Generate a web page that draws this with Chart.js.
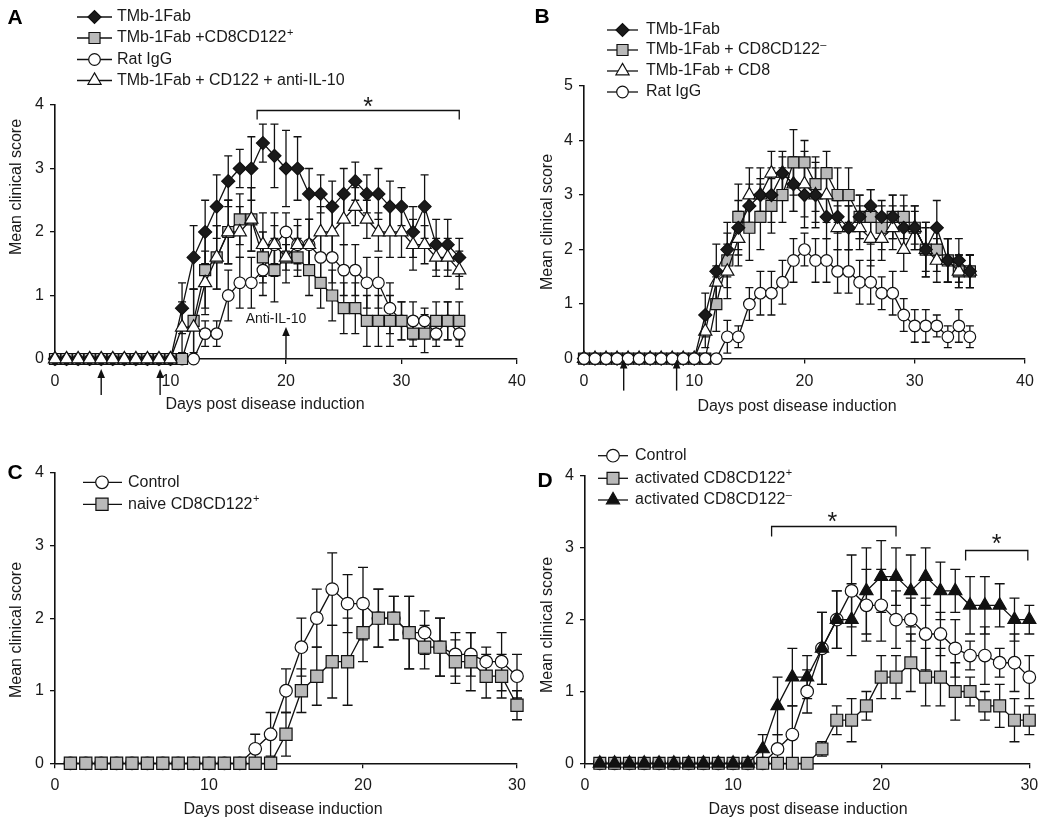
<!DOCTYPE html>
<html>
<head>
<meta charset="utf-8">
<script src="https://cdn.jsdelivr.net/npm/chart.js@4.4.1/dist/chart.umd.min.js"></script>
<style>
html,body{margin:0;padding:0;background:#fff;width:1050px;height:825px;overflow:hidden;}
canvas{position:absolute;}
</style>
</head>
<body>
<canvas id="cA" width="540" height="415" style="left:0;top:0"></canvas>
<canvas id="cB" width="530" height="415" style="left:520px;top:0"></canvas>
<canvas id="cC" width="540" height="415" style="left:0;top:410px"></canvas>
<canvas id="cD" width="530" height="415" style="left:520px;top:410px"></canvas>
<script>
// ---------------- DATA ----------------
const daysAB = [0,1,2,3,4,5,6,7,8,9,10,11,12,13,14,15,16,17,18,19,20,21,22,23,24,25,26,27,28,29,30,31,32,33,34,35];
const daysCD = [1,2,3,4,5,6,7,8,9,10,11,12,13,14,15,16,17,18,19,20,21,22,23,24,25,26,27,28,29,30];

const xTicksAB = [0,10,20,30,40];
const yTicksA = [0,1,2,3,4];
const yTicksB = [0,1,2,3,4,5];
const xTicksCD = [0,10,20,30];
const yTicksCD = [0,1,2,3,4];

// Panel A
const aTMb      = [0,0,0,0,0,0,0,0,0,0,0, 0.8,1.6,2.0,2.4,2.8,3.0,3.0,3.4,3.2,3.0,3.0,2.6,2.6,2.4,2.6,2.8,2.6,2.6,2.4,2.4,2.0,2.4,1.8,1.8,1.6];
const aTMbErr   = [0,0,0,0,0,0,0,0,0,0,0, 0.4,0.5,0.5,0.5,0.4,0.3,0.5,0.3,0.5,0.6,0.5,0.4,0.3,0.4,0.4,0.3,0.3,0.4,0.4,0.3,0.4,0.5,0.4,0.4,0.3];
const aCD122p   = [0,0,0,0,0,0,0,0,0,0,0,0, 0.6,1.4,1.6,2.0,2.2,2.2,1.6,1.4,1.6,1.6,1.4,1.2,1.0,0.8,0.8,0.6,0.6,0.6,0.6,0.4,0.4,0.6,0.6,0.6];
const aCD122pErr= [0,0,0,0,0,0,0,0,0,0,0,0, 0.5,0.6,0.5,0.5,0.4,0.5,0.4,0.5,0.4,0.3,0.4,0.4,0.4,0.4,0.4,0.4,0.4,0.4,0.3,0.2,0.3,0.3,0.3,0.3];
const aRatIgG   = [0,0,0,0,0,0,0,0,0,0,0,0,0, 0.4,0.4,1.0,1.2,1.2,1.4,1.8,2.0,1.8,1.8,1.6,1.6,1.4,1.4,1.2,1.2,0.8,0.6,0.6,0.6,0.4,0.6,0.4];
const aRatIgGErr= [0,0,0,0,0,0,0,0,0,0,0,0,0, 0.2,0.2,0.4,0.4,0.4,0.4,0.3,0.3,0.4,0.4,0.4,0.4,0.4,0.4,0.4,0.4,0.4,0.3,0.3,0.2,0.2,0.3,0.2];
const aAntiIL10 = [0,0,0,0,0,0,0,0,0,0,0, 0.5,0.5,1.2,1.6,2.0,2.0,2.2,1.8,1.8,1.6,1.8,1.8,2.0,2.0,2.2,2.4,2.2,2.0,2.0,2.0,1.8,1.8,1.6,1.6,1.4];
const aAntiIL10Err=[0,0,0,0,0,0,0,0,0,0,0, 0.4,0.6,0.5,0.5,0.5,0.4,0.5,0.5,0.5,0.2,0.3,0.4,0.4,0.4,0.4,0.3,0.3,0.3,0.4,0.4,0.4,0.3,0.3,0.3,0.3];

// Panel B
const bTMb      = [0,0,0,0,0,0,0,0,0,0,0, 0.8,1.6,2.0,2.4,2.8,3.0,3.0,3.4,3.2,3.0,3.0,2.6,2.6,2.4,2.6,2.8,2.6,2.6,2.4,2.4,2.0,2.4,1.8,1.8,1.6];
const bTMbErr   = [0,0,0,0,0,0,0,0,0,0,0, 0.4,0.5,0.5,0.5,0.4,0.3,0.5,0.3,0.5,0.6,0.5,0.4,0.3,0.4,0.4,0.3,0.3,0.4,0.4,0.3,0.4,0.5,0.4,0.4,0.3];
const bCD122m   = [0,0,0,0,0,0,0,0,0,0,0,0, 1.0,1.8,2.6,2.4,2.6,2.8,3.0,3.6,3.6,3.2,3.4,3.0,3.0,2.6,2.6,2.4,2.6,2.6,2.4,2.0,2.0,1.8,1.6,1.6];
const bCD122mErr= [0,0,0,0,0,0,0,0,0,0,0,0, 0.5,0.5,0.6,0.6,0.6,0.5,0.5,0.6,0.4,0.5,0.4,0.5,0.5,0.4,0.5,0.4,0.4,0.4,0.4,0.5,0.4,0.4,0.3,0.3];
const bCD8      = [0,0,0,0,0,0,0,0,0,0,0, 0.5,1.4,1.6,2.2,3.0,3.0,3.4,3.4,3.2,3.2,3.0,3.0,2.4,2.4,2.4,2.2,2.2,2.4,2.0,2.4,2.0,1.8,1.8,1.6,1.6];
const bCD8Err   = [0,0,0,0,0,0,0,0,0,0,0, 0.3,0.3,0.5,0.5,0.5,0.5,0.4,0.4,0.5,0.6,0.6,0.5,0.4,0.4,0.4,0.5,0.4,0.4,0.4,0.4,0.5,0.4,0.4,0.3,0.3];
const bRatIgG   = [0,0,0,0,0,0,0,0,0,0,0,0,0, 0.4,0.4,1.0,1.2,1.2,1.4,1.8,2.0,1.8,1.8,1.6,1.6,1.4,1.4,1.2,1.2,0.8,0.6,0.6,0.6,0.4,0.6,0.4];
const bRatIgGErr= [0,0,0,0,0,0,0,0,0,0,0,0,0, 0.3,0.2,0.3,0.4,0.4,0.4,0.4,0.3,0.4,0.4,0.4,0.4,0.4,0.4,0.3,0.4,0.3,0.3,0.3,0.2,0.2,0.3,0.2];

// Panel C
const cControl    = [0,0,0,0,0,0,0,0,0,0,0,0, 0.2,0.4,1.0,1.6,2.0,2.4,2.2,2.2,2.0,2.0,1.8,1.8,1.6,1.5,1.5,1.4,1.4,1.2];
const cControlErr = [0,0,0,0,0,0,0,0,0,0,0,0, 0.2,0.3,0.3,0.4,0.4,0.5,0.4,0.5,0.4,0.3,0.5,0.3,0.4,0.3,0.3,0.2,0.4,0.3];
const cNaive      = [0,0,0,0,0,0,0,0,0,0,0,0,0,0, 0.4,1.0,1.2,1.4,1.4,1.8,2.0,2.0,1.8,1.6,1.6,1.4,1.4,1.2,1.2,0.8];
const cNaiveErr   = [0,0,0,0,0,0,0,0,0,0,0,0,0,0, 0.3,0.3,0.4,0.5,0.6,0.4,0.4,0.3,0.5,0.3,0.4,0.3,0.4,0.3,0.3,0.2];

// Panel D
const dControl    = [0,0,0,0,0,0,0,0,0,0,0,0, 0.2,0.4,1.0,1.6,2.0,2.4,2.2,2.2,2.0,2.0,1.8,1.8,1.6,1.5,1.5,1.4,1.4,1.2];
const dControlErr = [0,0,0,0,0,0,0,0,0,0,0,0, 0.2,0.4,0.3,0.5,0.4,0.5,0.5,0.5,0.4,0.3,0.5,0.3,0.4,0.2,0.4,0.2,0.4,0.3];
const dActPlus    = [0,0,0,0,0,0,0,0,0,0,0,0,0,0,0, 0.2,0.6,0.6,0.8,1.2,1.2,1.4,1.2,1.2,1.0,1.0,0.8,0.8,0.6,0.6];
const dActPlusErr = [0,0,0,0,0,0,0,0,0,0,0,0,0,0,0, 0.1,0.2,0.3,0.2,0.3,0.3,0.4,0.4,0.4,0.4,0.2,0.2,0.3,0.3,0.2];
const dActMinus   = [0,0,0,0,0,0,0,0,0,0,0, 0.2,0.8,1.2,1.2,1.6,2.0,2.0,2.4,2.6,2.6,2.4,2.6,2.4,2.4,2.2,2.2,2.2,2.0,2.0];
const dActMinusErr= [0,0,0,0,0,0,0,0,0,0,0, 0.2,0.4,0.4,0.3,0.5,0.4,0.5,0.6,0.5,0.4,0.5,0.4,0.4,0.3,0.4,0.4,0.3,0.3,0.2];

// annotation values (data units)
const arrowsA = [4, 9.1];
const arrowsB = [3.6, 8.4];
const antiIL10Day = 20;

// ---------------- STYLE / HELPERS ----------------
const FONT = '"Liberation Sans", Arial, Helvetica, sans-serif';
const INK = '#111';
const GRAY = '#b9b9b9';
const LW = 1.3;

function drawMarker(ctx, style, x, y, r, fill){
  ctx.beginPath();
  if (style === 'circle') { ctx.arc(x, y, r, 0, Math.PI*2); }
  else if (style === 'rect') { const s = r*Math.SQRT1_2; ctx.rect(x-s, y-s, 2*s, 2*s); }
  else if (style === 'rectRot') { ctx.moveTo(x-r,y); ctx.lineTo(x,y-r); ctx.lineTo(x+r,y); ctx.lineTo(x,y+r); ctx.closePath(); }
  else if (style === 'triangle') {
    ctx.moveTo(x, y-r); ctx.lineTo(x+0.866*r, y+0.5*r); ctx.lineTo(x-0.866*r, y+0.5*r); ctx.closePath();
  }
  ctx.fillStyle = fill; ctx.fill();
  ctx.lineWidth = 1.2; ctx.strokeStyle = INK; ctx.stroke();
}

function drawLabel(ctx, text, x, y){
  ctx.font = '16px ' + FONT; ctx.textAlign = 'left'; ctx.textBaseline = 'middle'; ctx.fillStyle = '#1a1a1a';
  const last = text.slice(-1);
  if (last === '\u207A' || last === '\u207B') {
    const main = text.slice(0, -1);
    ctx.fillText(main, x, y);
    const w = ctx.measureText(main).width;
    ctx.font = '11px ' + FONT;
    ctx.fillText(last === '\u207A' ? '+' : '\u2013', x + w + 0.5, y - 5);
  } else {
    ctx.fillText(text, x, y);
  }
}

function drawArrow(ctx, x, tipY, tailY){
  const dir = tailY > tipY ? 1 : -1;
  ctx.beginPath(); ctx.moveTo(x, tailY); ctx.lineTo(x, tipY + dir*6); ctx.lineWidth = 1.4; ctx.strokeStyle = INK; ctx.stroke();
  ctx.beginPath(); ctx.moveTo(x, tipY); ctx.lineTo(x+3.8, tipY + dir*9); ctx.lineTo(x-3.8, tipY + dir*9); ctx.closePath();
  ctx.fillStyle = INK; ctx.fill();
}

function drawStar(ctx, x, cy){
  ctx.font = '25px ' + FONT; ctx.textAlign = 'center'; ctx.textBaseline = 'alphabetic'; ctx.fillStyle = '#1a1a1a';
  ctx.fillText('*', x, cy + 0.57*25);
}

const PANEL = {};

const panelPlugin = {
  id: 'panelPlugin',
  beforeDatasetsDraw(chart){
    const cfg = PANEL[chart.canvas.id]; if (!cfg) return;
    const ctx = chart.ctx, xs = chart.scales.x, ys = chart.scales.y;
    ctx.save(); ctx.strokeStyle = INK; ctx.lineWidth = LW;
    chart.data.datasets.forEach(ds => {
      if (!ds.errorBars) return;
      ds.data.forEach((p, i) => {
        const e = ds.errorBars[i]; if (!e) return;
        const x = xs.getPixelForValue(p.x);
        const y1 = ys.getPixelForValue(p.y + e), y2 = ys.getPixelForValue(Math.max(0, p.y - e));
        ctx.beginPath();
        ctx.moveTo(x, y1); ctx.lineTo(x, y2);
        ctx.moveTo(x - cfg.cap, y1); ctx.lineTo(x + cfg.cap, y1);
        ctx.moveTo(x - cfg.cap, y2); ctx.lineTo(x + cfg.cap, y2);
        ctx.stroke();
      });
    });
    ctx.restore();
  },
  afterDraw(chart){
    const cfg = PANEL[chart.canvas.id]; if (!cfg) return;
    const ctx = chart.ctx, xs = chart.scales.x, ys = chart.scales.y;
    ctx.save();
    // panel letter
    ctx.font = 'bold 21px ' + FONT; ctx.textAlign = 'center'; ctx.textBaseline = 'middle'; ctx.fillStyle = '#000';
    ctx.fillText(cfg.letter, cfg.letterPos[0], cfg.letterPos[1]);
    // axis titles
    ctx.font = '16px ' + FONT; ctx.fillStyle = '#1a1a1a';
    ctx.fillText(cfg.xTitle, cfg.xTitlePos[0], cfg.xTitlePos[1]);
    ctx.save(); ctx.translate(cfg.yTitlePos[0], cfg.yTitlePos[1]); ctx.rotate(-Math.PI/2);
    ctx.fillText(cfg.yTitle, 0, 0); ctx.restore();
    // legend
    const L = cfg.legend;
    L.order.forEach((di, k) => {
      const ds = chart.data.datasets[di];
      const y = L.rows[k];
      ctx.beginPath(); ctx.moveTo(L.x1, y); ctx.lineTo(L.x2, y); ctx.lineWidth = LW; ctx.strokeStyle = INK; ctx.stroke();
      drawMarker(ctx, ds.pointStyle, L.mx, y, ds.pointRadius, ds.pointBackgroundColor);
      drawLabel(ctx, ds.label, L.tx, y);
    });
    // annotations
    const A = cfg.annot || {};
    const y0 = ys.getPixelForValue(0);
    (A.arrowsBelow || []).forEach(d => drawArrow(ctx, xs.getPixelForValue(d), y0 + A.tipOff, y0 + A.tailOff));
    if (A.anti) {
      const x = xs.getPixelForValue(A.anti.day);
      drawArrow(ctx, x, y0 - A.anti.len, y0);
      ctx.font = '14px ' + FONT; ctx.textAlign = 'center'; ctx.textBaseline = 'middle'; ctx.fillStyle = '#1a1a1a';
      ctx.fillText(A.anti.text, x - 10, y0 - A.anti.len - 8);
    }
    (A.brackets || []).forEach(b => {
      const xa = xs.getPixelForValue(b.from), xb = xs.getPixelForValue(b.to), y = Math.round(ys.getPixelForValue(b.y)) + 0.5;
      ctx.beginPath(); ctx.moveTo(xa, y + b.drop); ctx.lineTo(xa, y); ctx.lineTo(xb, y); ctx.lineTo(xb, y + b.drop);
      ctx.lineWidth = 1.3; ctx.strokeStyle = INK; ctx.stroke();
      drawStar(ctx, xs.getPixelForValue(b.starX), ys.getPixelForValue(b.starY));
    });
    ctx.restore();
  }
};

function makeSeries(days, values, errors, label, style, r, fill, order){
  return {
    label: label,
    data: days.map((d, i) => ({x: d, y: values[i]})),
    errorBars: errors,
    order: order,
    borderColor: INK, borderWidth: LW,
    pointStyle: style, pointRadius: r, pointHoverRadius: r,
    pointBackgroundColor: fill, pointBorderColor: INK, pointBorderWidth: 1.2,
    fill: false, tension: 0, clip: false
  };
}

function makeScales(xTicks, yTicks, yWidth, xHeight){
  const grid = {drawOnChartArea: false, drawTicks: true, tickLength: 5, color: INK, lineWidth: 1.3};
  const border = {display: true, color: INK, width: 1.6};
  const font = {family: FONT, size: 16};
  return {
    x: {type: 'linear', min: xTicks[0], max: xTicks[xTicks.length-1], grid, border,
        ticks: {stepSize: xTicks[1]-xTicks[0], color: '#1a1a1a', font, padding: 8, maxRotation: 0, autoSkip: false},
        afterFit(s){ s.height = xHeight; }},
    y: {type: 'linear', min: yTicks[0], max: yTicks[yTicks.length-1], grid, border,
        ticks: {stepSize: yTicks[1]-yTicks[0], color: '#1a1a1a', font, padding: 6},
        afterFit(s){ s.width = yWidth; }}
  };
}

function makeChart(id, datasets, scales, padding){
  return new Chart(document.getElementById(id), {
    type: 'line',
    data: {datasets},
    options: {
      responsive: false, animation: false, events: [],
      layout: {padding},
      scales,
      plugins: {legend: {display: false}, tooltip: {enabled: false}, title: {display: false}}
    },
    plugins: [panelPlugin]
  });
}

// ---------------- PANEL A ----------------
PANEL.cA = {
  letter: 'A', letterPos: [15, 18], cap: 4,
  xTitle: 'Days post disease induction', xTitlePos: [265, 405],
  yTitle: 'Mean clinical score', yTitlePos: [17, 187],
  legend: {x1: 77, x2: 112, mx: 94.5, tx: 117, rows: [17, 38, 59.5, 80.5], order: [0,1,2,3]},
  annot: {arrowsBelow: arrowsA, tipOff: 10, tailOff: 36,
          anti: {day: antiIL10Day, len: 32, text: 'Anti-IL-10'},
          brackets: [{from: 17.5, to: 35, y: 3.92, drop: 9, starX: 27.1, starY: 4.07}]}
};
makeChart('cA', [
  makeSeries(daysAB, aTMb, aTMbErr, 'TMb-1Fab', 'rectRot', 6.5, '#1a1a1a', 1),
  makeSeries(daysAB, aCD122p, aCD122pErr, 'TMb-1Fab +CD8CD122\u207A', 'rect', 7.8, GRAY, 2),
  makeSeries(daysAB, aRatIgG, aRatIgGErr, 'Rat IgG', 'circle', 5.8, '#fff', 3),
  makeSeries(daysAB, aAntiIL10, aAntiIL10Err, 'TMb-1Fab + CD122 + anti-IL-10', 'triangle', 7.6, '#fff', 0)
], makeScales(xTicksAB, yTicksA, 55, 30), {left: 0, top: 105, right: 23, bottom: 26});

// ---------------- PANEL B ----------------
PANEL.cB = {
  letter: 'B', letterPos: [22, 17], cap: 4,
  xTitle: 'Days post disease induction', xTitlePos: [277, 407],
  yTitle: 'Mean clinical score', yTitlePos: [28, 222],
  legend: {x1: 87, x2: 118, mx: 102.5, tx: 126, rows: [30, 50, 71, 92], order: [0,1,2,3]},
  annot: {arrowsBelow: arrowsB, tipOff: 1, tailOff: 32}
};
makeChart('cB', [
  makeSeries(daysAB, bTMb, bTMbErr, 'TMb-1Fab', 'rectRot', 6.5, '#1a1a1a', 1),
  makeSeries(daysAB, bCD122m, bCD122mErr, 'TMb-1Fab + CD8CD122\u207B', 'rect', 7.8, GRAY, 3),
  makeSeries(daysAB, bCD8, bCD8Err, 'TMb-1Fab + CD8', 'triangle', 7.6, '#fff', 2),
  makeSeries(daysAB, bRatIgG, bRatIgGErr, 'Rat IgG', 'circle', 5.8, '#fff', 0)
], makeScales(xTicksAB, yTicksB, 64, 30), {left: 0, top: 86, right: 25, bottom: 26.4});

// ---------------- PANEL C ----------------
PANEL.cC = {
  letter: 'C', letterPos: [15, 63], cap: 5,
  xTitle: 'Days post disease induction', xTitlePos: [283, 400],
  yTitle: 'Mean clinical score', yTitlePos: [17, 220],
  legend: {x1: 83, x2: 122, mx: 102, tx: 128, rows: [72.3, 94.3], order: [0,1]}
};
makeChart('cC', [
  makeSeries(daysCD, cControl, cControlErr, 'Control', 'circle', 6.3, '#fff', 1),
  makeSeries(daysCD, cNaive, cNaiveErr, 'naive CD8CD122\u207A', 'rect', 8.6, GRAY, 0)
], makeScales(xTicksCD, yTicksCD, 55, 30), {left: 0, top: 63, right: 23, bottom: 31.7});

// ---------------- PANEL D ----------------
PANEL.cD = {
  letter: 'D', letterPos: [25, 71], cap: 5,
  xTitle: 'Days post disease induction', xTitlePos: [288, 400],
  yTitle: 'Mean clinical score', yTitlePos: [28, 215],
  legend: {x1: 78, x2: 108, mx: 93, tx: 115, rows: [45.7, 68.3, 90], order: [0,1,2]},
  annot: {brackets: [
    {from: 12.6, to: 21.0, y: 3.3, drop: 10, starX: 16.7, starY: 3.44},
    {from: 25.7, to: 29.9, y: 2.97, drop: 10, starX: 27.8, starY: 3.14}
  ]}
};
makeChart('cD', [
  makeSeries(daysCD, dControl, dControlErr, 'Control', 'circle', 6.3, '#fff', 2),
  makeSeries(daysCD, dActPlus, dActPlusErr, 'activated CD8CD122\u207A', 'rect', 8.4, GRAY, 1),
  makeSeries(daysCD, dActMinus, dActMinusErr, 'activated CD8CD122\u207B', 'triangle', 7.6, '#111', 0)
], makeScales(xTicksCD, yTicksCD, 65, 30), {left: 0, top: 66, right: 20.7, bottom: 31.7});
</script>
</body>
</html>
